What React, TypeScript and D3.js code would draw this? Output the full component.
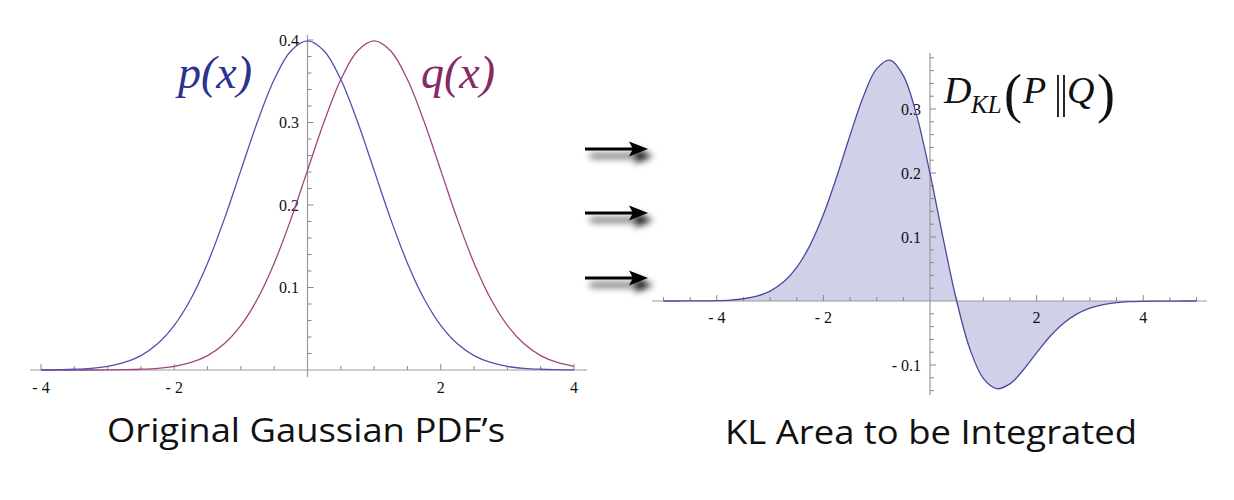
import React from "react";
import * as d3 from "d3";

// ---------- Data ----------
const xLeft = [-4, -3.75, -3.5, -3.25, -3, -2.75, -2.5, -2.25, -2, -1.75, -1.5, -1.25, -1, -0.75, -0.5, -0.25, 0,
  0.25, 0.5, 0.75, 1, 1.25, 1.5, 1.75, 2, 2.25, 2.5, 2.75, 3, 3.25, 3.5, 3.75, 4];
const pValues = [0.0001, 0.0004, 0.0009, 0.0020, 0.0044, 0.0091, 0.0175, 0.0317, 0.0540, 0.0863, 0.1295, 0.1826, 0.2420, 0.3011, 0.3521, 0.3867, 0.3989,
  0.3867, 0.3521, 0.3011, 0.2420, 0.1826, 0.1295, 0.0863, 0.0540, 0.0317, 0.0175, 0.0091, 0.0044, 0.0020, 0.0009, 0.0004, 0.0001];
const qValues = [0.0000, 0.0000, 0.0000, 0.0000, 0.0001, 0.0004, 0.0009, 0.0020, 0.0044, 0.0091, 0.0175, 0.0317, 0.0540, 0.0863, 0.1295, 0.1826, 0.2420,
  0.3011, 0.3521, 0.3867, 0.3989, 0.3867, 0.3521, 0.3011, 0.2420, 0.1826, 0.1295, 0.0863, 0.0540, 0.0317, 0.0175, 0.0091, 0.0044];

const xRight = [-5, -4.75, -4.5, -4.25, -4, -3.75, -3.5, -3.25, -3, -2.75, -2.5, -2.25, -2, -1.75, -1.5, -1.25, -1, -0.75, -0.5, -0.25, 0,
  0.25, 0.5, 0.75, 1, 1.25, 1.5, 1.75, 2, 2.25, 2.5, 2.75, 3, 3.25, 3.5, 3.75, 4, 4.25, 4.5, 4.75, 5];
const klValues = [0.0000, 0.0000, 0.0001, 0.0002, 0.0006, 0.0015, 0.0035, 0.0076, 0.0155, 0.0296, 0.0526, 0.0873, 0.1350, 0.1941, 0.2590, 0.3196, 0.3630, 0.3764, 0.3521, 0.2900, 0.1995,
  0.0967, 0.0000, -0.0753, -0.1210, -0.1370, -0.1295, -0.1078, -0.0810, -0.0555, -0.0351, -0.0205, -0.0111, -0.0056, -0.0026, -0.0011, -0.0005, -0.0002, -0.0001, 0.0000, 0.0000];

const leftXTicks = [-4, -2, 2, 4];
const leftXTickLabels = ["- 4", "- 2", "2", "4"];
const leftYTicks = [0.1, 0.2, 0.3, 0.4];
const leftYTickLabels = ["0.1", "0.2", "0.3", "0.4"];
const rightXTicks = [-4, -2, 2, 4];
const rightXTickLabels = ["- 4", "- 2", "2", "4"];
const rightYTicks = [-0.1, 0.1, 0.2, 0.3];
const rightYTickLabels = ["- 0.1", "0.1", "0.2", "0.3"];

const titleLeft = "Original Gaussian PDF\u2019s";
const titleRight = "KL Area to be Integrated";

// ---------- Styles ----------
const AXIS = "#9a9a9a";
const TICK = "#8a8a8a";
const LABEL = "#111";
const P_COLOR = "#5050ad";
const Q_COLOR = "#a04480";
const KL_LINE = "#4a4aa2";
const KL_FILL = "#d0d0e8";
const SERIF = "'Liberation Serif', 'Times New Roman', serif";
const SANS = "'Open Sans', 'Noto Sans', sans-serif";

export default function App() {
  // left chart scales
  const lx = d3.scaleLinear().domain([-4, 4]).range([41, 574]);
  const ly = d3.scaleLinear().domain([0, 0.4]).range([370, 40]);
  // right chart scales
  const rx = d3.scaleLinear().domain([-5, 5]).range([663.5, 1196.5]);
  const ry = d3.scaleLinear().domain([-0.1, 0.3]).range([365, 109]);

  const leftLine = d3.line<number>()
    .x((_, i) => lx(xLeft[i]))
    .y((d) => ly(d))
    .curve(d3.curveCatmullRom.alpha(0.5));

  const rightLine = d3.line<number>()
    .x((_, i) => rx(xRight[i]))
    .y((d) => ry(d))
    .curve(d3.curveCatmullRom.alpha(0.5));
  const rightArea = d3.area<number>()
    .x((_, i) => rx(xRight[i]))
    .y0(ry(0))
    .y1((d) => ry(d))
    .curve(d3.curveCatmullRom.alpha(0.5));

  const leftXMinor = d3.range(-4, 4.001, 0.5);
  const leftYMinor = d3.range(0.02, 0.401, 0.02);
  const rightXMinor = d3.range(-5, 5.001, 0.5);
  const rightYMinor = d3.range(-0.14, 0.381, 0.02).filter((v) => Math.abs(v) > 1e-6);

  const isMajor = (v: number, step: number) => Math.abs(v / step - Math.round(v / step)) < 1e-6;

  const arrowsY = [149, 213, 278];

  return (
    <svg width={1234} height={500} style={{ position: "absolute", left: 0, top: 0, background: "#fff" }}>
      <defs>
        <filter id="shadow" x="-30%" y="-150%" width="170%" height="500%">
          <feGaussianBlur in="SourceAlpha" stdDeviation="3.6" />
          <feOffset dx="5" dy="7" result="off" />
          <feComponentTransfer>
            <feFuncA type="linear" slope="1" />
          </feComponentTransfer>
          <feMerge>
            <feMergeNode />
            <feMergeNode in="SourceGraphic" />
          </feMerge>
        </filter>
      </defs>

      {/* ---------- Left chart ---------- */}
      <g>
        <line x1={30} x2={587} y1={ly(0)} y2={ly(0)} stroke={AXIS} strokeWidth={1.2} />
        <line x1={lx(0)} x2={lx(0)} y1={35} y2={377} stroke={AXIS} strokeWidth={1.2} />
        {leftXMinor.filter((v) => Math.abs(v) > 1e-6).map((v, i) => (
          <line key={"lxt" + i} x1={lx(v)} x2={lx(v)} y1={ly(0)} y2={ly(0) - (isMajor(v, 2) ? 6 : 4)} stroke={TICK} strokeWidth={1} />
        ))}
        {leftYMinor.map((v, i) => (
          <line key={"lyt" + i} x1={lx(0)} x2={lx(0) + (isMajor(v, 0.1) ? 6 : 4)} y1={ly(v)} y2={ly(v)} stroke={TICK} strokeWidth={1} />
        ))}
        {leftXTicks.map((v, i) => (
          <text key={"lxl" + i} x={lx(v)} y={393} textAnchor="middle" fontFamily={SERIF} fontSize={16} fill={LABEL}>
            {leftXTickLabels[i]}
          </text>
        ))}
        {leftYTicks.map((v, i) => (
          <text key={"lyl" + i} x={299} y={ly(v)} dy="0.35em" textAnchor="end" fontFamily={SERIF} fontSize={16} fill={LABEL}>
            {leftYTickLabels[i]}
          </text>
        ))}
        <path d={leftLine(qValues) || ""} fill="none" stroke={Q_COLOR} strokeWidth={1.3} />
        <path d={leftLine(pValues) || ""} fill="none" stroke={P_COLOR} strokeWidth={1.3} />
        <text x={178} y={88} fontFamily={SERIF} fontStyle="italic" fontSize={46} fill="#2f3190">p(x)</text>
        <text x={421} y={88} fontFamily={SERIF} fontStyle="italic" fontSize={46} fill="#862a66">q(x)</text>
      </g>

      {/* ---------- Arrows ---------- */}
      <g filter="url(#shadow)">
        {arrowsY.map((y, i) => (
          <g key={"ar" + i}>
            <line x1={585} x2={634} y1={y} y2={y} stroke="#000" strokeWidth={2.8} />
            <path d={`M ${648} ${y} L ${629} ${y - 7.5} L ${633} ${y} L ${629} ${y + 7.5} Z`} fill="#000" />
          </g>
        ))}
      </g>

      {/* ---------- Right chart ---------- */}
      <g>
        <path d={rightArea(klValues) || ""} fill={KL_FILL} stroke="none" />
        <line x1={652} x2={1207} y1={ry(0)} y2={ry(0)} stroke={AXIS} strokeWidth={1.2} />
        <line x1={rx(0)} x2={rx(0)} y1={53} y2={395} stroke={AXIS} strokeWidth={1.2} />
        {rightXMinor.filter((v) => Math.abs(v) > 1e-6).map((v, i) => (
          <line key={"rxt" + i} x1={rx(v)} x2={rx(v)} y1={ry(0)} y2={ry(0) - (isMajor(v, 2) ? 6 : 4)} stroke={TICK} strokeWidth={1} />
        ))}
        {rightYMinor.map((v, i) => (
          <line key={"ryt" + i} x1={rx(0)} x2={rx(0) + (isMajor(v, 0.1) ? 6 : 4)} y1={ry(v)} y2={ry(v)} stroke={TICK} strokeWidth={1} />
        ))}
        {rightXTicks.map((v, i) => (
          <text key={"rxl" + i} x={rx(v)} y={323} textAnchor="middle" fontFamily={SERIF} fontSize={16} fill={LABEL}>
            {rightXTickLabels[i]}
          </text>
        ))}
        {rightYTicks.map((v, i) => (
          <text key={"ryl" + i} x={921} y={ry(v)} dy="0.35em" textAnchor="end" fontFamily={SERIF} fontSize={16} fill={LABEL}>
            {rightYTickLabels[i]}
          </text>
        ))}
        <path d={rightLine(klValues) || ""} fill="none" stroke={KL_LINE} strokeWidth={1.3} />

        {/* D_KL(P||Q) */}
        <g fontFamily={SERIF} fill="#111">
          <text x={944} y={103} fontSize={38} fontStyle="italic">D</text>
          <text x={971} y={113} fontSize={25} fontStyle="italic">KL</text>
          <text x={1004} y={112} fontSize={54}>(</text>
          <text x={1023} y={103} fontSize={38} fontStyle="italic">P</text>
          <line x1={1058} x2={1058} y1={75} y2={117} stroke="#111" strokeWidth={1.8} />
          <line x1={1064} x2={1064} y1={75} y2={117} stroke="#111" strokeWidth={1.8} />
          <text x={1067} y={103} fontSize={38} fontStyle="italic">Q</text>
          <text x={1097} y={112} fontSize={54}>)</text>
        </g>
      </g>

      {/* ---------- Titles ---------- */}
      <text x={107} y={442} fontFamily={SANS} fontSize={33} fill="#111" textLength={398} lengthAdjust="spacingAndGlyphs">
        {titleLeft}
      </text>
      <text x={725} y={444} fontFamily={SANS} fontSize={33} fill="#111" textLength={412} lengthAdjust="spacingAndGlyphs">
        {titleRight}
      </text>
    </svg>
  );
}
